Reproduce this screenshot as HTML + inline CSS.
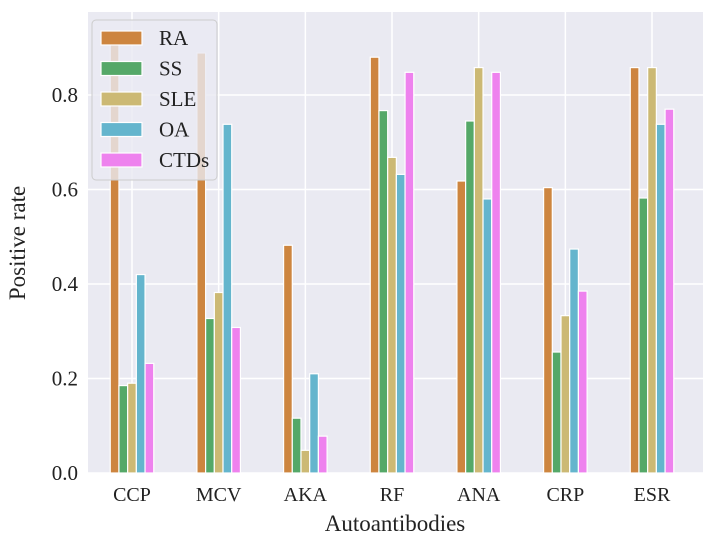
<!DOCTYPE html>
<html><head><meta charset="utf-8"><style>
body{margin:0;background:#fff;}
svg text{font-family:"Liberation Serif",serif;fill:#222;}
</style></head><body>
<svg id="chart" width="717" height="537">
<rect x="88" y="12" width="615" height="461" fill="#eaeaf2"/>
<g id="grid"></g><g id="bars"></g><g id="axes"></g>
<text x="395" y="531" font-size="23" text-anchor="middle">Autoantibodies</text>
<text transform="translate(25,243) rotate(-90)" font-size="23" text-anchor="middle">Positive rate</text>
<g id="legend"></g>
</svg>
<script>
const categories=["CCP","MCV","AKA","RF","ANA","CRP","ESR"];
const seriesNames=["RA","SS","SLE","OA","CTDs"];
const colors=["#cd853f","#55a868","#ccb974","#64b5cd","#ee82ee"];
const RA=[0.91,0.889,0.482,0.88,0.618,0.604,0.858];
const SS=[0.185,0.327,0.116,0.767,0.745,0.256,0.582];
const SLE=[0.19,0.382,0.048,0.668,0.858,0.333,0.858];
const OA=[0.42,0.738,0.21,0.632,0.58,0.474,0.738];
const CTDs=[0.232,0.308,0.078,0.848,0.848,0.385,0.77];
const yTicks=[0,0.2,0.4,0.6,0.8];
const series=[RA,SS,SLE,OA,CTDs];
const NS="http://www.w3.org/2000/svg";
const x=i=>132+i*86.67, y=v=>473-v*472.5;
function mk(t,a,p){const e=document.createElementNS(NS,t);for(const k in a)e.setAttribute(k,a[k]);p.appendChild(e);return e;}
const grid=document.getElementById('grid'),bars=document.getElementById('bars'),axes=document.getElementById('axes'),leg=document.getElementById('legend');
yTicks.forEach(v=>{const l=mk('line',{x1:88,x2:703,y1:y(v),y2:y(v),stroke:'#fff','stroke-width':1.5},grid);


const t=mk('text',{x:78,y:y(v)+7,'font-size':21,'text-anchor':'end'},axes);t.textContent=v.toFixed(1);

});
categories.forEach((c,i)=>{const l=mk('line',{x1:x(i),x2:x(i),y1:12,y2:473,stroke:'#fff','stroke-width':1.5},grid);


const t=mk('text',{x:x(i),y:501,'font-size':20,'text-anchor':'middle'},axes);t.textContent=c;


series.forEach((s,j)=>{const cx=x(i)+(j-2)*8.7;const r=mk('rect',{x:cx-4.35,y:y(s[i]),width:8.7,height:473-y(s[i]),fill:colors[j],stroke:'#fff','stroke-width':1.2},bars);

});});
mk('rect',{x:92,y:20,width:125,height:160,rx:4,fill:'#eaeaf2','fill-opacity':0.8,stroke:'#ccc','stroke-width':1},leg);
seriesNames.forEach((n,j)=>{const yy=37+j*30.5;
const r=mk('rect',{x:101,y:yy-6,width:41,height:14,fill:colors[j],stroke:'#fff','stroke-width':1.2},leg);


const t=mk('text',{x:159,y:yy+8,'font-size':21},leg);t.textContent=n;

});
</script>
</body></html>
